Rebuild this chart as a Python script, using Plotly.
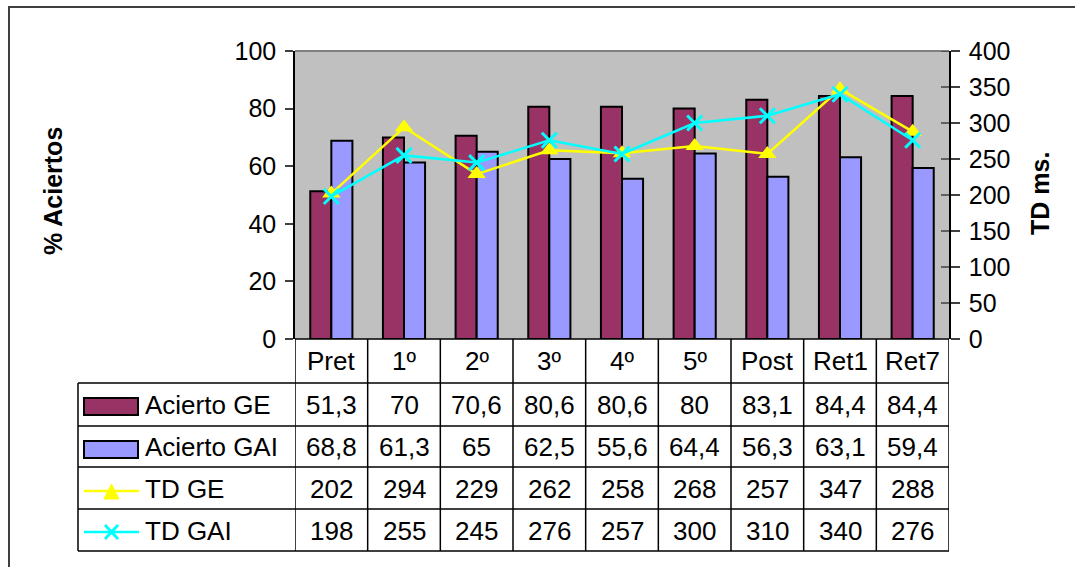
import plotly.graph_objects as go

# Session labels
categories = ["Pret", "1º", "2º", "3º", "4º", "5º", "Post", "Ret1", "Ret7"]

# % correct per group
acierto_ge = [51.3, 70, 70.6, 80.6, 80.6, 80, 83.1, 84.4, 84.4]
acierto_gai = [68.8, 61.3, 65, 62.5, 55.6, 64.4, 56.3, 63.1, 59.4]

# Decision time (ms) per group
td_ge = [202, 294, 229, 262, 258, 268, 257, 347, 288]
td_gai = [198, 255, 245, 276, 257, 300, 310, 340, 276]

# Axis tick values
pct_ticks = [0, 20, 40, 60, 80, 100]
ms_ticks = [0, 50, 100, 150, 200, 250, 300, 350, 400]

W, H = 1075, 567
FONT = "Liberation Sans, Arial, sans-serif"
C_GE = "#993366"
C_GAI = "#9999FF"
C_TDGE = "#FFFF00"
C_TDGAI = "#00FFFF"
TXT = 26


def px(x):
    return x / W


def py(y):
    return 1 - y / H


def fmt(v):
    return f"{v:g}".replace(".", ",")


xs = list(range(len(categories)))

fig = go.Figure()
fig.add_trace(go.Bar(x=xs, y=acierto_ge, name="Acierto GE", marker=dict(color=C_GE, line=dict(color="black", width=2))))
fig.add_trace(go.Bar(x=xs, y=acierto_gai, name="Acierto GAI", marker=dict(color=C_GAI, line=dict(color="black", width=2))))
fig.add_trace(go.Scatter(x=xs, y=td_ge, name="TD GE", yaxis="y2", mode="lines+markers",
                         line=dict(color=C_TDGE, width=2.5),
                         marker=dict(symbol="triangle-up", size=16, color=C_TDGE)))
fig.add_trace(go.Scatter(x=xs, y=td_gai, name="TD GAI", yaxis="y2", mode="lines+markers",
                         line=dict(color=C_TDGAI, width=2.5),
                         marker=dict(symbol="x-thin", size=15, color=C_TDGAI, line=dict(color=C_TDGAI, width=3))))

x_left, x_right = 295, 949
y_top, y_bot = 51, 339

fig.update_layout(
    width=W, height=H, margin=dict(l=0, r=0, t=0, b=0, autoexpand=False),
    paper_bgcolor="white", plot_bgcolor="#C0C0C0",
    showlegend=False, barmode="group", bargap=0.42, bargroupgap=0,
    font=dict(family=FONT, size=25, color="black"),
    hovermode=False,
    xaxis=dict(domain=[px(x_left), px(x_right)], range=[-0.5, len(categories) - 0.5],
               showticklabels=False, ticks="", showgrid=False, zeroline=False,
               showline=False, automargin=False),
    yaxis=dict(domain=[py(y_bot), py(y_top)], range=[0, 100], tickvals=pct_ticks,
               ticks="outside", ticklen=8, tickcolor="#404040", tickwidth=1.5,
               showline=True, linecolor="black", linewidth=1.5, showgrid=False, zeroline=False,
               tickfont=dict(size=25), ticklabelstandoff=4, automargin=False),
    yaxis2=dict(overlaying="y", side="right", range=[0, 400], tickvals=ms_ticks,
                ticks="outside", ticklen=9, tickcolor="#404040", tickwidth=1.5,
                showline=True, linecolor="black", linewidth=1.5, showgrid=False, zeroline=False,
                tickfont=dict(size=25), ticklabelstandoff=4, automargin=False),
)

shapes = []
line_c = dict(color="black", width=1.5)

# Outer chart frame
shapes.append(dict(type="rect", xref="paper", yref="paper", x0=px(9), x1=px(1090), y0=py(7), y1=py(590),
                   line=dict(color="#404040", width=2), fillcolor="rgba(0,0,0,0)"))
# Top edge of plot area
shapes.append(dict(type="line", xref="paper", yref="paper", x0=px(x_left), x1=px(x_right), y0=py(y_top), y1=py(y_top),
                   line=dict(color="#808080", width=2)))
# Category axis at zero
shapes.append(dict(type="line", xref="paper", yref="paper", x0=px(x_left), x1=px(x_right), y0=py(y_bot), y1=py(y_bot),
                   line=dict(color="black", width=1.5)))
# Inner half of the secondary axis ticks (ticks cross the axis)
for t in ms_ticks:
    shapes.append(dict(type="line", xref="paper", yref="y2", x0=px(x_right - 8), x1=px(x_right), y0=t, y1=t,
                       line=dict(color="#404040", width=1.5)))

# Data table grid
row_lines = [383, 426, 467, 509, 551]
table_left = 78
for yl in row_lines:
    shapes.append(dict(type="line", xref="paper", yref="paper", x0=px(table_left), x1=px(x_right),
                       y0=py(yl), y1=py(yl), line=line_c))
shapes.append(dict(type="line", xref="paper", yref="paper", x0=px(table_left), x1=px(table_left),
                   y0=py(383), y1=py(551), line=line_c))
for i in range(len(categories) + 1):
    shapes.append(dict(type="line", xref="x", yref="paper", x0=i - 0.5, x1=i - 0.5,
                       y0=py(y_bot), y1=py(551), line=line_c))

# Legend keys inside the table
shapes.append(dict(type="rect", xref="paper", yref="paper", x0=px(84), x1=px(138), y0=py(398), y1=py(415),
                   fillcolor=C_GE, line=dict(color="black", width=2)))
shapes.append(dict(type="rect", xref="paper", yref="paper", x0=px(84), x1=px(138), y0=py(441), y1=py(458),
                   fillcolor=C_GAI, line=dict(color="black", width=2)))
shapes.append(dict(type="line", xref="paper", yref="paper", x0=px(84), x1=px(139), y0=py(491), y1=py(491),
                   line=dict(color=C_TDGE, width=2.5)))
shapes.append(dict(type="path", xref="paper", yref="paper",
                   path=f"M {px(104)},{py(499)} L {px(119)},{py(499)} L {px(111.5)},{py(484)} Z",
                   fillcolor=C_TDGE, line=dict(color=C_TDGE, width=1)))
shapes.append(dict(type="line", xref="paper", yref="paper", x0=px(84), x1=px(139), y0=py(532), y1=py(532),
                   line=dict(color=C_TDGAI, width=2.5)))
shapes.append(dict(type="line", xref="paper", yref="paper", x0=px(105), x1=px(118), y0=py(525), y1=py(539),
                   line=dict(color=C_TDGAI, width=3)))
shapes.append(dict(type="line", xref="paper", yref="paper", x0=px(105), x1=px(118), y0=py(539), y1=py(525),
                   line=dict(color=C_TDGAI, width=3)))
fig.update_layout(shapes=shapes)

annotations = []
# Axis titles
annotations.append(dict(x=px(53), y=py(191), xref="paper", yref="paper", text="<b>% Aciertos</b>",
                        textangle=-90, showarrow=False, font=dict(size=25), xanchor="center", yanchor="middle"))
annotations.append(dict(x=px(1040), y=py(194), xref="paper", yref="paper", text="<b>TD ms.</b>",
                        textangle=-90, showarrow=False, font=dict(size=25), xanchor="center", yanchor="middle"))

row_centers = {"head": 361, "ge": 405, "gai": 447, "tdge": 489, "tdgai": 531}
for i, c in enumerate(categories):
    annotations.append(dict(x=i, y=py(row_centers["head"]), xref="x", yref="paper", text=c, showarrow=False,
                            font=dict(size=TXT), xanchor="center", yanchor="middle"))
for key, vals in (("ge", acierto_ge), ("gai", acierto_gai), ("tdge", td_ge), ("tdgai", td_gai)):
    for i, v in enumerate(vals):
        annotations.append(dict(x=i, y=py(row_centers[key]), xref="x", yref="paper", text=fmt(v), showarrow=False,
                                font=dict(size=TXT), xanchor="center", yanchor="middle"))
for key, name in (("ge", "Acierto GE"), ("gai", "Acierto GAI"), ("tdge", "TD GE"), ("tdgai", "TD GAI")):
    annotations.append(dict(x=px(143), y=py(row_centers[key]), xref="paper", yref="paper", text=name, showarrow=False,
                            font=dict(size=TXT), xanchor="left", yanchor="middle"))
fig.update_layout(annotations=annotations)

fig.write_html("out.html")
